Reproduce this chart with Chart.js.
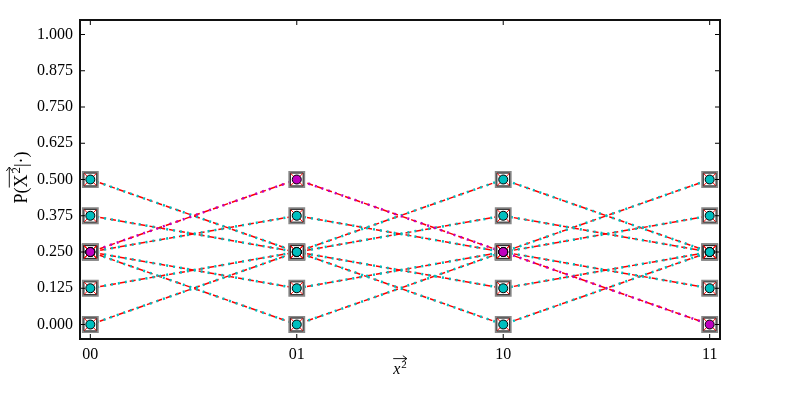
<!DOCTYPE html>
<html>
<head>
<meta charset="utf-8">
<script src="https://cdn.jsdelivr.net/npm/chart.js@4/dist/chart.umd.min.js"></script>
<style>
  html, body { margin: 0; padding: 0; background: #fff; }
</style>
</head>
<body>
<canvas id="chart" width="800" height="400"></canvas>
<script>
// ── Données ─────────────────────────────────────────────
const xLabels = ['00', '01', '10', '11'];
const yTicks  = [0, 0.125, 0.25, 0.375, 0.5, 0.625, 0.75, 0.875, 1.0];

const dist1 = [0.5,   0.25,  0.0,   0.25];
const dist2 = [0.375, 0.25,  0.125, 0.25];
const dist3 = [0.125, 0.25,  0.375, 0.25];
const dist4 = [0.0,   0.25,  0.5,   0.25];
const dist5 = [0.25,  0.375, 0.25,  0.125];
const dist6 = [0.25,  0.125, 0.25,  0.375];
const dist7 = [0.25,  0.0,   0.25,  0.5];
const distHighlight = [0.25, 0.5, 0.25, 0.0];

const plainDists = [dist1, dist2, dist3, dist4, dist5, dist6, dist7];

const CYAN = '#00bfbf', MAGENTA = '#bf00bf', RED = '#ff0000';
const FONT = "'Liberation Serif', 'DejaVu Serif', serif";

const toPts = arr => arr.map((v, i) => ({ x: i, y: v }));
const allPts = [...plainDists, distHighlight].flatMap(toPts);

// ── Datasets ────────────────────────────────────────────
const datasets = [];
plainDists.forEach(d => {
  datasets.push({ data: toPts(d), showLine: true, borderColor: RED, borderWidth: 1.5,
    borderDash: [6, 4], pointRadius: 0, order: 40 });
  datasets.push({ data: toPts(d), showLine: true, borderColor: CYAN, borderWidth: 2.5,
    borderDash: [2, 5], pointRadius: 0, order: 30 });
});
datasets.push({ data: toPts(distHighlight), showLine: true, borderColor: RED, borderWidth: 1.5,
  borderDash: [6, 4], pointRadius: 0, order: 25 });
datasets.push({ data: toPts(distHighlight), showLine: true, borderColor: MAGENTA, borderWidth: 2.5,
  borderDash: [2, 5], pointRadius: 0, order: 20 });

// marqueurs superposés : carré gris, carré noir, croix rouge, rond
datasets.push({ data: allPts, showLine: false, pointStyle: 'rect', pointRadius: 10.5,
  pointBackgroundColor: '#fff', pointBorderColor: '#888', pointBorderWidth: 2, order: 5 });
datasets.push({ data: allPts, showLine: false, pointStyle: 'rect', pointRadius: 9,
  pointBackgroundColor: '#fff', pointBorderColor: '#222', pointBorderWidth: 1, order: 4 });
datasets.push({ data: allPts, showLine: false, pointStyle: 'crossRot', pointRadius: 8.5,
  pointBorderColor: RED, pointBorderWidth: 1, order: 3 });
datasets.push({ data: plainDists.flatMap(toPts), showLine: false, pointStyle: 'circle', pointRadius: 4.5,
  pointBackgroundColor: CYAN, pointBorderColor: '#000', pointBorderWidth: 1, order: 2 });
datasets.push({ data: toPts(distHighlight), showLine: false, pointStyle: 'circle', pointRadius: 4.5,
  pointBackgroundColor: MAGENTA, pointBorderColor: '#000', pointBorderWidth: 1, order: 1 });

// ── Titre avec flèche vectorielle au-dessus ─────────────
function drawVecLabel(ctx, cx, cy, size, pre, base, sup, post, italic) {
  const main = (italic ? 'italic ' : '') + size + 'px ' + FONT;
  const reg  = size + 'px ' + FONT;
  const small = Math.round(size * 0.7) + 'px ' + FONT;
  ctx.font = reg;   const wPre = ctx.measureText(pre).width, wPost = ctx.measureText(post).width;
  ctx.font = main;  const wBase = ctx.measureText(base).width;
  ctx.font = small; const wSup = ctx.measureText(sup).width;
  let x0 = cx - (wPre + wBase + wSup + 1 + wPost) / 2;
  ctx.fillStyle = '#000';
  ctx.textBaseline = 'alphabetic';
  ctx.textAlign = 'left';
  const base_y = cy + size * 0.32;
  ctx.font = reg;   ctx.fillText(pre, x0, base_y);
  const xa = x0 + wPre;
  ctx.font = main;  ctx.fillText(base, xa, base_y);
  ctx.font = small; ctx.fillText(sup, xa + wBase + 1, base_y - size * 0.4);
  const xb = xa + wBase + wSup + 1;
  ctx.font = reg;   ctx.fillText(post, xb, base_y);
  // flèche
  const ay = cy - size * 0.65;
  ctx.strokeStyle = '#000'; ctx.lineWidth = 0.9;
  ctx.beginPath();
  ctx.moveTo(xa, ay); ctx.lineTo(xb, ay);
  ctx.moveTo(xb - 4, ay - 3); ctx.lineTo(xb, ay); ctx.lineTo(xb - 4, ay + 3);
  ctx.stroke();
}

// ── Cadre + graduations intérieures (style matplotlib) ──
const frameTicks = {
  id: 'frameTicks',
  afterDraw(chart) {
    const { ctx, chartArea: a, scales: { x, y } } = chart;
    const len = 5;
    ctx.save();
    ctx.strokeStyle = '#000';
    ctx.lineWidth = 1;
    ctx.beginPath();
    x.ticks.forEach(t => {
      const px = x.getPixelForValue(t.value);
      ctx.moveTo(px, a.bottom); ctx.lineTo(px, a.bottom - len);
      ctx.moveTo(px, a.top);    ctx.lineTo(px, a.top + len);
    });
    y.ticks.forEach(t => {
      const py = y.getPixelForValue(t.value);
      ctx.moveTo(a.left, py);  ctx.lineTo(a.left + len, py);
      ctx.moveTo(a.right, py); ctx.lineTo(a.right - len, py);
    });
    ctx.stroke();
    ctx.strokeStyle = '#111';
    ctx.lineWidth = 2;
    ctx.strokeRect(a.left, a.top, a.right - a.left, a.bottom - a.top);

    // titres des axes
    drawVecLabel(ctx, (a.left + a.right) / 2, 369, 16, '', 'x', '2', '', true);
    ctx.translate(21, (a.top + a.bottom) / 2 - 2);
    ctx.rotate(-Math.PI / 2);
    drawVecLabel(ctx, 0, 0, 18, 'P(', 'X', '2', '|\u00B7)', false);
    ctx.restore();
  }
};

new Chart(document.getElementById('chart').getContext('2d'), {
  type: 'scatter',
  data: { datasets },
  options: {
    responsive: false, animation: false, devicePixelRatio: 1,
    layout: { padding: { top: 20, right: 80, left: 0, bottom: 0 } },
    plugins: { legend: { display: false }, tooltip: { enabled: false } },
    scales: {
      x: {
        type: 'linear', min: -0.05, max: 3.05,
        afterBuildTicks: s => { s.ticks = xLabels.map((_, i) => ({ value: i })); },
        afterFit: s => { s.height = 61; },
        grid: { display: false, drawTicks: false }, border: { display: false },
        ticks: { color: '#000', padding: 6, font: { family: FONT, size: 16 },
          callback: v => xLabels[v] }
      },
      y: {
        type: 'linear', min: -0.05, max: 1.05,
        afterBuildTicks: s => { s.ticks = yTicks.map(v => ({ value: v })); },
        afterFit: s => { s.width = 80; },
        grid: { display: false, drawTicks: false }, border: { display: false },
        ticks: { color: '#000', padding: 7, font: { family: FONT, size: 16 },
          callback: v => v.toFixed(3) }
      }
    }
  },
  plugins: [frameTicks]
});
</script>
</body>
</html>
